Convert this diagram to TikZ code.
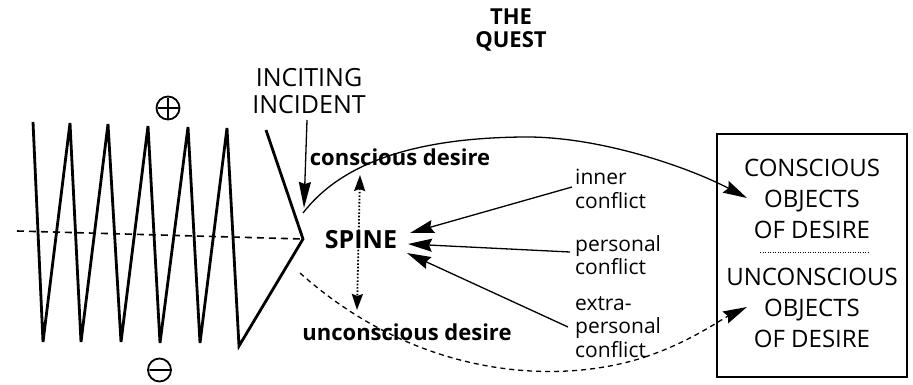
\documentclass[tikz,border=0pt]{standalone}
\usepackage{fontspec}
\setmainfont{Open Sans}
\usetikzlibrary{arrows.meta}
\begin{document}
\begin{tikzpicture}[x=1pt,y=-1pt,
  lbl/.style={inner sep=0pt,font=\fontsize{24}{31}\selectfont,align=center},
  small/.style={inner sep=0pt,font=\fontsize{21}{23.5}\selectfont,align=left,anchor=west},
  bold/.style={inner sep=0pt,font=\fontsize{22}{22}\selectfont\bfseries},
  bighead/.style={-{Stealth[length=24pt,width=13pt,inset=3pt]}},
  zig/.style={line width=2.8pt,line join=miter},
  conn/.style={line width=1.3pt}]
\useasboundingbox (0,0) rectangle (913,384);
% title
\node[inner sep=0pt,align=center,font=\fontsize{22}{23}\selectfont\bfseries] (quest) at (511,30) {THE\\QUEST};
\node[lbl,font=\fontsize{25}{27}\selectfont] (incite) at (309,91) {INCITING\\INCIDENT};
% zigzag
\draw[zig] (33,122) -- (43,342) -- (70,123) -- (81,342) -- (108,124) -- (121,342)
  -- (148,126) -- (160,343) -- (188,127) -- (200,343) -- (227,128) -- (239,346)
  -- (303,239) -- (266,130);
\coordinate (tip) at (303,239);
\coordinate (axisL) at (17,231);
\draw[line width=1.6pt,dash pattern=on 7pt off 5pt] (axisL) -- (tip);
% plus / minus
\draw[line width=1.8pt] (168,108) circle (11.5) (158,108) -- (178,108) (168,98) -- (168,118);
\draw[line width=1.8pt] (159.5,370) circle (11.5) (149.5,370) -- (169.5,370);
% inciting arrow
\coordinate (incA) at (307,120);
\coordinate (incB) at (304,208);
\draw[conn,-{Stealth[length=26pt,width=12pt,inset=2pt]}] (incA) -- (incB);
% labels
\node[bold] (cd) at (400,157) {conscious desire};
\node[bold] (ud) at (407,332) {unconscious desire};
\node[inner sep=0pt,font=\fontsize{25}{25}\selectfont\bfseries] (spine) at (361,240) {SPINE};
\node[small] (inner) at (575,189) {inner\\conflict};
\node[small] (pers) at (575,255) {personal\\conflict};
\node[small] (extra) at (575,327) {extra-\\personal\\conflict};
% box
\node[draw,line width=1.4pt,minimum width=190pt,minimum height=243pt,inner sep=0pt] (box) at (812,255.5) {};
\node[lbl] (cobj) at (812,199) {CONSCIOUS\\OBJECTS\\OF DESIRE};
\node[lbl] (uobj) at (812,308) {UNCONSCIOUS\\OBJECTS\\OF DESIRE};
\coordinate (sepL) at (760,252);
\coordinate (sepR) at (868,252);
\draw[line width=0.6pt,dash pattern=on 1pt off 1.5pt] (sepL) -- (sepR);
% conscious curve
\coordinate (cs) at (303,213);
\coordinate (cp) at (523,137);
\coordinate (ce) at (747,198);
\draw[conn,bighead] (cs) .. controls (340,165) and (410,138) .. (cp)
  .. controls (600,136) and (690,168) .. (ce);
% unconscious dashed curve
\coordinate (us) at (300,273);
\coordinate (um) at (645,357);
\coordinate (ue) at (747,307);
\draw[conn,dash pattern=on 5pt off 4pt] (us) .. controls (420,380) and (560,385) .. (um);
\draw[conn,dash pattern=on 5pt off 4pt,bighead] (um) .. controls (690,342) and (720,320) .. (ue);
% dotted double arrow
\coordinate (dT) at (360,175);
\coordinate (dB) at (357,310);
\draw[line width=1.8pt,dash pattern=on 1.6pt off 1.8pt,{Stealth[length=16pt,width=11pt,inset=2pt]}-{Stealth[length=16pt,width=11pt,inset=2pt]}] (dT) -- (dB);
% conflict arrows
\coordinate (i1) at (572,187);
\coordinate (i2) at (410,233);
\coordinate (p1) at (570,252);
\coordinate (p2) at (408,244);
\coordinate (e1) at (568,327);
\coordinate (e2) at (407,253);
\draw[conn,bighead] (i1) -- (i2);
\draw[conn,bighead] (p1) -- (p2);
\draw[conn,bighead] (e1) -- (e2);
\end{tikzpicture}
\end{document}
